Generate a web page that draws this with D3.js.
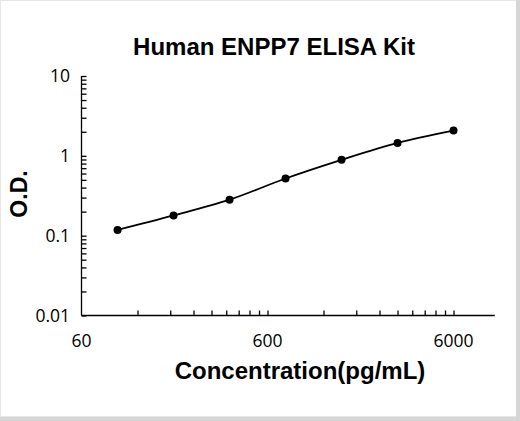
<!doctype html>
<html lang='en'>
  <head>
    <meta charset='utf-8' />
    <style>
      * { padding: 0; margin: 0; }
      body { background: #fff; }
      svg { display: block; }
    </style>
    <title>Human ENPP7 ELISA Kit</title>
  </head>
  <body>
    <div id='container'></div>
    <script src='https://d3js.org/d3.v7.min.js'></script>
    <script type='text/javascript'>

      // standard curve
      var concentration = [93.75, 187.5, 375, 750, 1500, 3000, 6000];
      var od = [0.118, 0.179, 0.282, 0.52, 0.89, 1.45, 2.07];

      var xTickValues = [60, 600, 6000];
      var yTickValues = [0.01, 0.1, 1, 10];
      var yTickLabels = ['0.01', '0.1', '1', '10'];

      const svg_width = 520,
            svg_height = 421;

      var svg = d3.select('#container').append('svg')
          .attr('width', svg_width)
          .attr('height', svg_height);

      // light frame round the picture
      svg.append('rect')
        .attr('x', 0.5).attr('y', 0.5)
        .attr('width', 516).attr('height', 416)
        .attr('fill', 'none').attr('stroke', '#e6e6e6');
      svg.append('rect').attr('x', 516).attr('y', 0).attr('width', 4).attr('height', svg_height).attr('fill', '#d6d6d6');
      svg.append('rect').attr('x', 0).attr('y', 417).attr('width', svg_width).attr('height', 4).attr('fill', '#d6d6d6');

      var x = d3.scaleLog().domain([60, 10000]).range([81.5, 494.8]);
      var y = d3.scaleLog().domain([0.01, 10]).range([315.5, 76]);

      // minor ticks every multiple of the decade start, like the original
      var xMinor = [];
      xTickValues.forEach(function(d) {
        for (var k = 2; k <= 10; k++) {
          if (d * k <= 10000) xMinor.push(d * k);
        }
      });

      var xAxis = d3.axisTop(x)
          .tickValues(xMinor)
          .tickSize(5)
          .tickFormat('');
      var gx = svg.append('g')
          .attr('transform', 'translate(0,' + y(0.01) + ')')
          .call(xAxis);
      gx.select('.domain').attr('d', 'M' + x(60) + ',0H' + x(10000));

      var yAxis = d3.axisRight(y)
          .tickValues(y.ticks())
          .tickSize(5)
          .tickFormat('');
      var gy = svg.append('g')
          .attr('transform', 'translate(' + x(60) + ',0)')
          .call(yAxis);
      gy.select('.domain').attr('d', 'M0,' + y(10) + 'V' + y(0.01));

      svg.selectAll('.domain, .tick line')
        .attr('stroke', '#000')
        .attr('stroke-width', 1.3);

      // tick labels
      svg.selectAll('.xlab')
        .data(xTickValues)
        .enter().append('text')
        .attr('class', 'xlab')
        .attr('x', function(d) { return x(d); })
        .attr('y', 347)
        .attr('text-anchor', 'middle')
        .style('font-family', "'Open Sans', sans-serif")
        .style('font-size', '17.5px')
        .text(function(d) { return d; });

      svg.selectAll('.ylab')
        .data(yTickValues)
        .enter().append('text')
        .attr('class', 'ylab')
        .attr('x', 70)
        .attr('y', function(d) { return y(d) + 6; })
        .attr('text-anchor', 'end')
        .style('font-family', "'Open Sans', sans-serif")
        .style('font-size', '17.5px')
        .text(function(d, i) { return yTickLabels[i]; });

      // titles
      svg.append('text')
        .attr('x', 274).attr('y', 55)
        .attr('text-anchor', 'middle')
        .style('font-family', "'Liberation Sans', Arial, sans-serif")
        .style('font-weight', 'bold')
        .style('font-size', '24px')
        .text('Human ENPP7 ELISA Kit');

      svg.append('text')
        .attr('x', 300).attr('y', 379)
        .attr('text-anchor', 'middle')
        .style('font-family', "'Liberation Sans', Arial, sans-serif")
        .style('font-weight', 'bold')
        .style('font-size', '24px')
        .text('Concentration(pg/mL)');

      svg.append('text')
        .attr('transform', 'translate(27,194) rotate(-90)')
        .attr('text-anchor', 'middle')
        .style('font-family', "'Liberation Sans', Arial, sans-serif")
        .style('font-weight', 'bold')
        .style('font-size', '23px')
        .text('O.D.');

      // curve and points
      var line = d3.line()
          .x(function(d, i) { return x(concentration[i]); })
          .y(function(d) { return y(d); })
          .curve(d3.curveMonotoneX);

      svg.append('path')
        .datum(od)
        .attr('d', line)
        .attr('fill', 'none')
        .attr('stroke', '#000')
        .attr('stroke-width', 1.8);

      svg.selectAll('circle')
        .data(od)
        .enter()
        .append('circle')
        .attr('cx', function(d, i) { return x(concentration[i]); })
        .attr('cy', function(d) { return y(d); })
        .attr('r', 4)
        .attr('fill', '#000');
    </script>
  </body>
</html>
